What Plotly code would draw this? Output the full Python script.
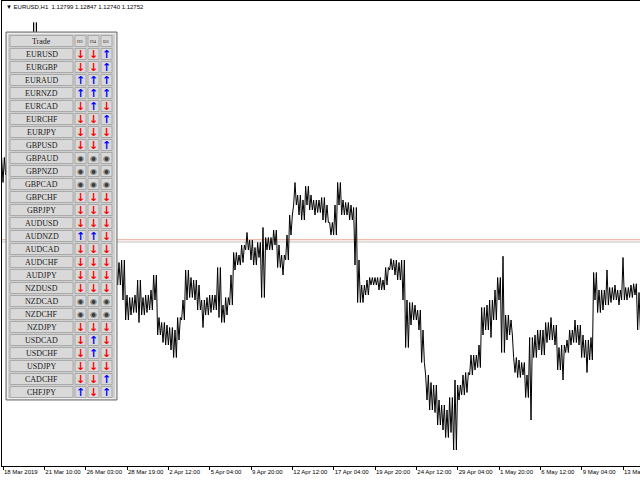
import plotly.graph_objects as go

# ---------------- data ----------------
# EURUSD H1, sampled every few bars: high / low of each sample window
highs = [1.1341, 1.1345, 1.1347, 1.1349, 1.1351, 1.1347, 1.1349, 1.1355, 1.1449, 1.1435,
         1.1419, 1.1411, 1.1395, 1.1371, 1.1331, 1.1307, 1.1315, 1.1319, 1.1323, 1.1315,
         1.1311, 1.1307, 1.1299, 1.1283, 1.1271, 1.1263, 1.1251, 1.1255, 1.1255, 1.1257,
         1.1259, 1.1231, 1.1229, 1.1231, 1.1243, 1.1229, 1.1231, 1.1235, 1.1247, 1.1213,
         1.1209, 1.1207, 1.1205, 1.1203, 1.1213, 1.1227, 1.1251, 1.1245, 1.1243, 1.1239,
         1.1227, 1.1229, 1.1231, 1.1231, 1.1253, 1.1223, 1.1229, 1.1247, 1.1265, 1.1263,
         1.1271, 1.1281, 1.1275, 1.1269, 1.1273, 1.1285, 1.1277, 1.1277, 1.1283, 1.1271,
         1.1263, 1.1279, 1.1295, 1.1321, 1.1311, 1.1307, 1.1318, 1.1311, 1.1307, 1.1307,
         1.1309, 1.1303, 1.1289, 1.1303, 1.1321, 1.1307, 1.1305, 1.1303, 1.1301, 1.1259,
         1.1239, 1.1243, 1.1245, 1.1245, 1.1245, 1.1243, 1.1253, 1.1260, 1.1259, 1.1257,
         1.1259, 1.1227, 1.1225, 1.1223, 1.1219, 1.1203, 1.1167, 1.1161, 1.1159, 1.1147,
         1.1143, 1.1139, 1.1149, 1.1163, 1.1159, 1.1167, 1.1169, 1.1183, 1.1183, 1.1191,
         1.1221, 1.1223, 1.1227, 1.1235, 1.1245, 1.1262, 1.1215, 1.1211, 1.1181, 1.1179,
         1.1177, 1.1167, 1.1197, 1.1199, 1.1203, 1.1203, 1.1209, 1.1213, 1.1207, 1.1189,
         1.1191, 1.1195, 1.1203, 1.1211, 1.1207, 1.1199, 1.1195, 1.1197, 1.1249, 1.1235,
         1.1235, 1.1251, 1.1237, 1.1239, 1.1235, 1.1261, 1.1237, 1.1239, 1.1240, 1.1233]
lows = [1.1321, 1.1327, 1.1331, 1.1333, 1.1335, 1.1331, 1.1333, 1.1335, 1.1339, 1.1403,
        1.1391, 1.1379, 1.1363, 1.1323, 1.1275, 1.1271, 1.1283, 1.1291, 1.1295, 1.1287,
        1.1283, 1.1279, 1.1267, 1.1255, 1.1243, 1.1227, 1.1219, 1.1223, 1.1241, 1.1239,
        1.1227, 1.1211, 1.1215, 1.1217, 1.1209, 1.1215, 1.1217, 1.1219, 1.1227, 1.1199,
        1.1193, 1.1191, 1.1187, 1.1181, 1.1195, 1.1211, 1.1227, 1.1229, 1.1227, 1.1219,
        1.1205, 1.1215, 1.1217, 1.1219, 1.1213, 1.1209, 1.1215, 1.1223, 1.1251, 1.1255,
        1.1257, 1.1267, 1.1259, 1.1255, 1.1261, 1.1229, 1.1267, 1.1267, 1.1271, 1.1253,
        1.1247, 1.1259, 1.1279, 1.1303, 1.1295, 1.1291, 1.1303, 1.1299, 1.1295, 1.1297,
        1.1291, 1.1289, 1.1279, 1.1279, 1.1303, 1.1295, 1.1295, 1.1291, 1.1255, 1.1225,
        1.1225, 1.1231, 1.1239, 1.1239, 1.1235, 1.1235, 1.1239, 1.1251, 1.1247, 1.1243,
        1.1227, 1.1189, 1.1207, 1.1211, 1.1203, 1.1177, 1.1147, 1.1139, 1.1137, 1.1127,
        1.1123, 1.1117, 1.1121, 1.1107, 1.1147, 1.1151, 1.1153, 1.1167, 1.1171, 1.1173,
        1.1199, 1.1203, 1.1197, 1.1211, 1.1227, 1.1185, 1.1195, 1.1199, 1.1169, 1.1165,
        1.1167, 1.1149, 1.1131, 1.1181, 1.1187, 1.1183, 1.1193, 1.1195, 1.1191, 1.1171,
        1.1163, 1.1185, 1.1191, 1.1193, 1.1191, 1.1181, 1.1169, 1.1179, 1.1227, 1.1217,
        1.1219, 1.1223, 1.1225, 1.1227, 1.1223, 1.1227, 1.1227, 1.1229, 1.1231, 1.1203]

tick_labels = ["18 Mar 2019", "21 Mar 10:00", "26 Mar 03:00", "28 Mar 19:00", "2 Apr 12:00",
               "5 Apr 04:00", "9 Apr 20:00", "12 Apr 12:00", "17 Apr 04:00", "19 Apr 20:00",
               "24 Apr 12:00", "29 Apr 04:00", "1 May 20:00", "6 May 12:00", "9 May 04:00",
               "13 May 20:00"]

header_line = "\u25bc EURUSD,H1  1.12799 1.12847 1.12740 1.12752"
level_a = 1.12752   # orange price line
level_b = 1.12734   # grey price line

pairs = ["EURUSD", "EURGBP", "EURAUD", "EURNZD", "EURCAD", "EURCHF", "EURJPY",
         "GBPUSD", "GBPAUD", "GBPNZD", "GBPCAD", "GBPCHF", "GBPJPY",
         "AUDUSD", "AUDNZD", "AUDCAD", "AUDCHF", "AUDJPY",
         "NZDUSD", "NZDCAD", "NZDCHF", "NZDJPY",
         "USDCAD", "USDCHF", "USDJPY", "CADCHF", "CHFJPY"]
timeframes = ["H1", "H4", "D1"]
sig_h1 = [-1, -1, 1, 1, -1, -1, -1, -1, 0, 0, 0, -1, -1, -1, 1, -1, -1, -1, -1, 0, 0, -1, -1, -1, -1, -1, 1]
sig_h4 = [-1, -1, 1, 1, 1, -1, -1, -1, 0, 0, 0, -1, -1, -1, 1, -1, -1, -1, -1, 0, 0, -1, 1, 1, -1, -1, -1]
sig_d1 = [1, 1, 1, 1, -1, 1, -1, 1, 0, 0, 0, -1, -1, -1, -1, -1, -1, -1, -1, 0, 0, -1, -1, -1, -1, 1, 1]

# ---------------- figure geometry ----------------
W, H = 640, 480
ML, MR, MT, MB = 2, 0, 1, 14
PW, PH = W - ML - MR, H - MT - MB


def xp(px):
    return (px - ML) / PW


def yp(py):
    return (H - MB - py) / PH


n = len(highs)

# dense bar look: each sample's high-low range stroked several times
xs, ys = [], []
for i in range(n):
    a, b = (highs[i], lows[i]) if i % 2 == 0 else (lows[i], highs[i])
    xs += [i - 0.34, i, i + 0.34]
    ys += [a, b, a]
    a, b = b, a

fig = go.Figure()
fig.add_trace(go.Scatter(x=xs, y=ys, mode="lines",
                         line=dict(color="black", width=1), hoverinfo="skip",
                         showlegend=False))

shapes = []
# price lines
shapes.append(dict(type="line", xref="paper", yref="y", x0=0, x1=1, y0=level_a, y1=level_a,
                   line=dict(color="#eea48a", width=1), layer="below"))
shapes.append(dict(type="line", xref="paper", yref="y", x0=0, x1=1, y0=level_b, y1=level_b,
                   line=dict(color="#c0c0c0", width=1), layer="below"))

# table panel
P_L, P_T, P_R, P_B = 6, 32, 117, 400
shapes.append(dict(type="rect", xref="paper", yref="paper", x0=xp(P_L), x1=xp(P_R),
                   y0=yp(P_B), y1=yp(P_T), fillcolor="#cfcfcf",
                   line=dict(color="#6e6e6e", width=1), layer="above"))
shapes.append(dict(type="rect", xref="paper", yref="paper", x0=xp(P_L + 1.5), x1=xp(P_R - 1.5),
                   y0=yp(P_B - 1.5), y1=yp(P_T + 1.5), fillcolor="rgba(0,0,0,0)",
                   line=dict(color="#efefef", width=1), layer="above"))

ROW0, PITCH, HALF = 41, 13, 5.5
NAME_X0, NAME_X1 = 10, 73
COL_X0, COL_W = 75, 11

annotations = []


def cell(x0, x1, cy):
    shapes.append(dict(type="rect", xref="paper", yref="paper", x0=xp(x0), x1=xp(x1),
                       y0=yp(cy + HALF), y1=yp(cy - HALF), fillcolor="#d9d9d9",
                       line=dict(color="#a9a9a9", width=1), layer="above"))


def text(x, y, s, size, color, family, anchor="center"):
    annotations.append(dict(x=xp(x), y=yp(y), xref="paper", yref="paper", text=s,
                            showarrow=False, xanchor=anchor, yanchor="middle",
                            font=dict(size=size, color=color, family=family)))


SERIF = "Liberation Serif"
SANS = "Liberation Sans"
rows = [("Trade", None)] + [(p, (a, b, c)) for p, a, b, c in zip(pairs, sig_h1, sig_h4, sig_d1)]
for r, (name, sigs) in enumerate(rows):
    cy = ROW0 + PITCH * r
    cell(NAME_X0, NAME_X1, cy)
    text((NAME_X0 + NAME_X1) / 2, cy + 0.5, name, 8, "#1a1a1a", SERIF)
    for j in range(3):
        x0 = COL_X0 + PITCH * j
        cell(x0, x0 + COL_W, cy)
        cx = x0 + COL_W / 2
        if sigs is None:
            text(cx, cy, timeframes[j], 5, "#1a1a1a", SERIF)
        else:
            s = sigs[j]
            if s > 0:
                text(cx, cy, "<b>\u2191</b>", 11, "#0000ff", "DejaVu Sans")
            elif s < 0:
                text(cx, cy, "<b>\u2193</b>", 11, "#ff0000", "DejaVu Sans")
            else:
                text(cx, cy, "\u25c9", 8, "#3c3c3c", "DejaVu Sans")

# chart caption
text(4, 7, header_line, 6, "#000000", SANS, anchor="left")

y_top = 1.1467 - 0.00008 * MT
y_bot = 1.1467 - 0.00008 * (H - MB)

fig.update_layout(
    width=W, height=H,
    margin=dict(l=ML, r=MR, t=MT, b=MB, pad=0, autoexpand=False),
    paper_bgcolor="white", plot_bgcolor="white",
    shapes=shapes, annotations=annotations,
    showlegend=False,
    xaxis=dict(range=[-0.25, n - 0.75], showgrid=False, zeroline=False,
               showline=True, linecolor="black", linewidth=1, mirror=True,
               tickmode="array", tickvals=[k * 31 / 3 for k in range(len(tick_labels))],
               ticktext=tick_labels, ticks="outside", ticklen=3, tickcolor="black",
               tickangle=0, automargin=False,
               ticklabelposition="outside right", ticklabeloverflow="allow",
               tickfont=dict(size=6, family=SANS, color="black"), fixedrange=True),
    yaxis=dict(range=[y_bot, y_top], showgrid=False, zeroline=False,
               showline=True, linecolor="black", linewidth=1, mirror=False,
               showticklabels=False, ticks="", automargin=False, fixedrange=True),
)

fig.write_html("out.html", config={"displayModeBar": False},
               post_script="document.body.style.margin='0px';document.body.style.overflow='hidden';")
